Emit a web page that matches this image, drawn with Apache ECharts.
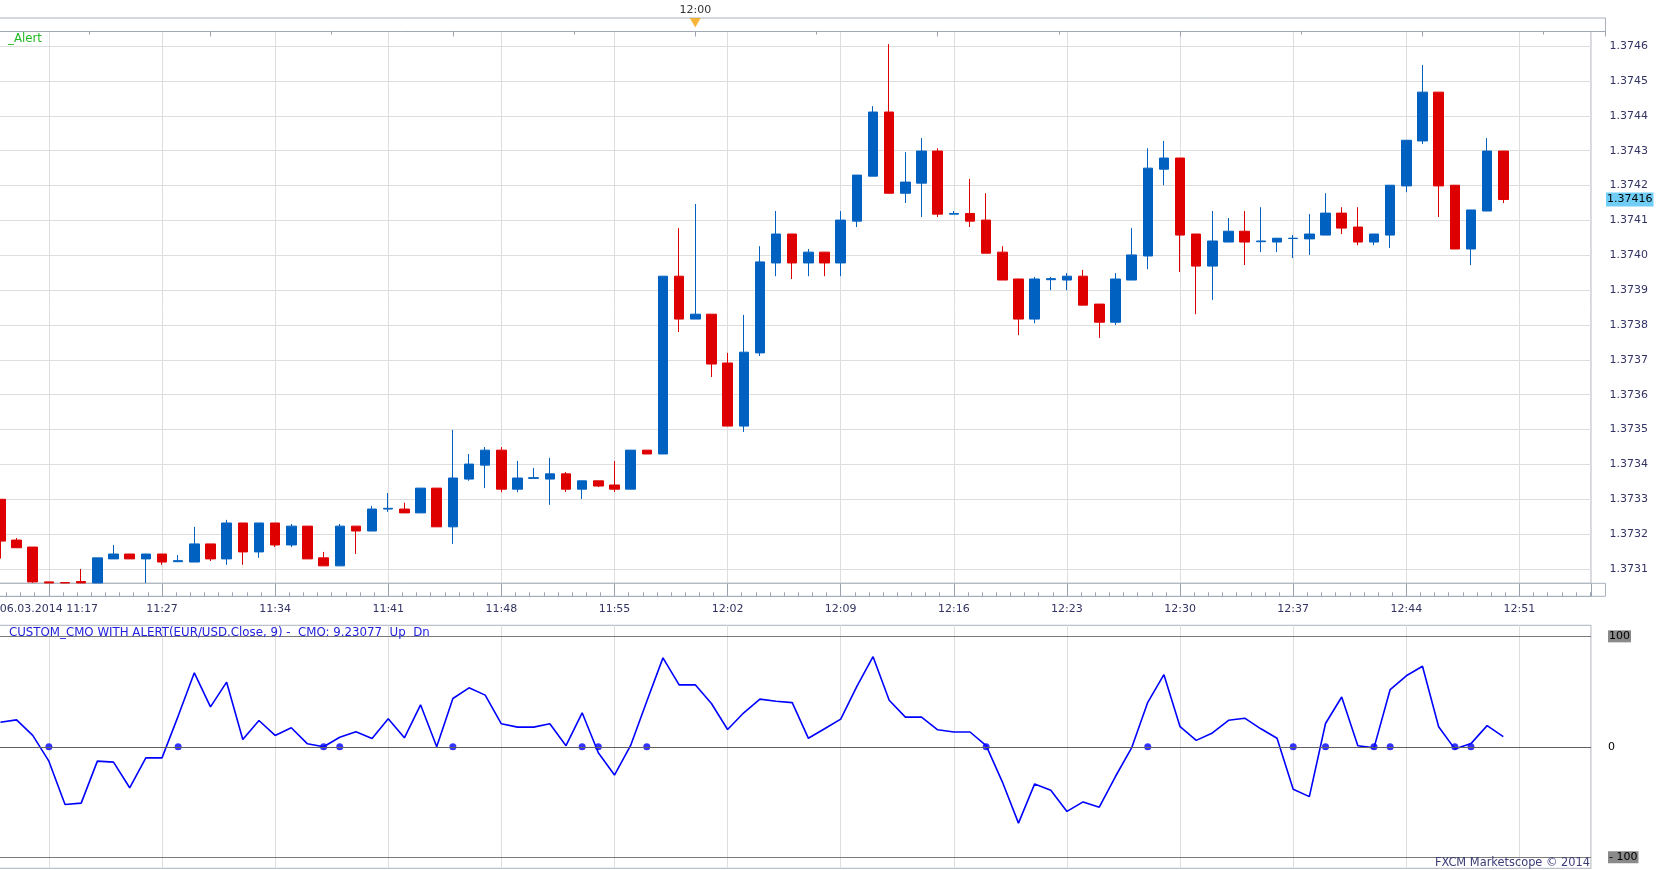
<!DOCTYPE html>
<html>
<head>
    <meta charset="utf-8">
    <title>EUR/USD m1 + CMO</title>
    <style>
        html, body { margin: 0; padding: 0; background: #fff; }
    </style>
</head>
<body>
    <div id="main" style="width: 1663px; height: 870px;"></div>
    <script src="https://cdn.jsdelivr.net/npm/echarts@6/dist/echarts.min.js"></script>
    <script type="text/javascript">
        // time labels on the bottom axis, one every 7 candles
        var timeLabels = ['06.03.2014 11:17', '11:27', '11:34', '11:41', '11:48', '11:55', '12:02',
            '12:09', '12:16', '12:23', '12:30', '12:37', '12:44', '12:51'];

        // EUR/USD 1 minute candles
        var opens = [1.373300, 1.373183, 1.373163, 1.373063, 1.373061, 1.373064, 1.373060, 1.373129, 1.373143, 1.373129,
            1.373143, 1.373121, 1.373120, 1.373172, 1.373129, 1.373232, 1.373149, 1.373232, 1.373169, 1.373223,
            1.373132, 1.373109, 1.373223, 1.373209, 1.373272, 1.373272, 1.373261, 1.373332, 1.373221, 1.373358,
            1.373398, 1.373441, 1.373329, 1.373360, 1.373358, 1.373373, 1.373329, 1.373353, 1.373341, 1.373329,
            1.373441, 1.373430, 1.373940, 1.373817, 1.373831, 1.373691, 1.373510, 1.373720, 1.373978, 1.374061,
            1.373978, 1.374009, 1.373978, 1.374098, 1.374227, 1.374411, 1.374178, 1.374207, 1.374299, 1.374118,
            1.374120, 1.374101, 1.374009, 1.373932, 1.373817, 1.373930, 1.373929, 1.373940, 1.373860, 1.373808,
            1.373929, 1.373998, 1.374247, 1.374279, 1.374061, 1.373969, 1.374038, 1.374069, 1.374039, 1.374038,
            1.374048, 1.374047, 1.374058, 1.374121, 1.374081, 1.374038, 1.374058, 1.374199, 1.374328, 1.374468,
            1.374201, 1.374018, 1.374127, 1.374299];
        var closes = [1.373180, 1.373161, 1.373063, 1.373060, 1.373060, 1.373060, 1.373132, 1.373143, 1.373129, 1.373143,
            1.373120, 1.373124, 1.373172, 1.373129, 1.373232, 1.373149, 1.373232, 1.373169, 1.373223, 1.373129,
            1.373109, 1.373223, 1.373209, 1.373272, 1.373274, 1.373261, 1.373332, 1.373221, 1.373361, 1.373401,
            1.373441, 1.373329, 1.373361, 1.373362, 1.373373, 1.373329, 1.373353, 1.373338, 1.373329, 1.373441,
            1.373430, 1.373940, 1.373817, 1.373831, 1.373688, 1.373510, 1.373722, 1.373981, 1.374061, 1.373978,
            1.374009, 1.373978, 1.374101, 1.374230, 1.374411, 1.374178, 1.374210, 1.374299, 1.374118, 1.374120,
            1.374098, 1.374006, 1.373929, 1.373817, 1.373932, 1.373933, 1.373940, 1.373857, 1.373808, 1.373932,
            1.374001, 1.374250, 1.374279, 1.374058, 1.373969, 1.374041, 1.374069, 1.374038, 1.374041, 1.374049,
            1.374049, 1.374061, 1.374121, 1.374078, 1.374038, 1.374061, 1.374201, 1.374330, 1.374468, 1.374199,
            1.374018, 1.374130, 1.374299, 1.374160];
        var lows = [1.373130, 1.373161, 1.373060, 1.373060, 1.373060, 1.373060, 1.373060, 1.373129, 1.373129, 1.373060,
            1.373112, 1.373120, 1.373120, 1.373123, 1.373112, 1.373112, 1.373132, 1.373163, 1.373163, 1.373129,
            1.373109, 1.373109, 1.373143, 1.373209, 1.373264, 1.373261, 1.373261, 1.373221, 1.373172, 1.373353,
            1.373332, 1.373320, 1.373320, 1.373360, 1.373284, 1.373321, 1.373301, 1.373335, 1.373321, 1.373329,
            1.373430, 1.373430, 1.373780, 1.373817, 1.373651, 1.373510, 1.373493, 1.373711, 1.373940, 1.373932,
            1.373940, 1.373940, 1.373940, 1.374081, 1.374227, 1.374178, 1.374150, 1.374110, 1.374110, 1.374118,
            1.374081, 1.374006, 1.373929, 1.373771, 1.373805, 1.373900, 1.373900, 1.373857, 1.373763, 1.373800,
            1.373929, 1.373960, 1.374201, 1.373952, 1.373831, 1.373872, 1.374038, 1.373972, 1.374009, 1.374009,
            1.373992, 1.374001, 1.374058, 1.374061, 1.374029, 1.374029, 1.374021, 1.374181, 1.374319, 1.374110,
            1.374018, 1.373972, 1.374127, 1.374150];
        var highs = [1.373300, 1.373189, 1.373163, 1.373063, 1.373061, 1.373100, 1.373132, 1.373169, 1.373143, 1.373143,
            1.373143, 1.373140, 1.373221, 1.373172, 1.373241, 1.373232, 1.373232, 1.373232, 1.373229, 1.373223,
            1.373149, 1.373229, 1.373223, 1.373281, 1.373318, 1.373290, 1.373332, 1.373332, 1.373499, 1.373430,
            1.373450, 1.373450, 1.373410, 1.373390, 1.373419, 1.373378, 1.373353, 1.373353, 1.373410, 1.373441,
            1.373441, 1.373940, 1.374078, 1.374147, 1.373831, 1.373720, 1.373829, 1.374026, 1.374127, 1.374061,
            1.374018, 1.374009, 1.374127, 1.374230, 1.374428, 1.374606, 1.374296, 1.374336, 1.374307, 1.374127,
            1.374219, 1.374178, 1.374026, 1.373932, 1.373938, 1.373938, 1.373949, 1.373958, 1.373860, 1.373949,
            1.374078, 1.374307, 1.374328, 1.374279, 1.374061, 1.374127, 1.374107, 1.374127, 1.374138, 1.374049,
            1.374058, 1.374118, 1.374178, 1.374138, 1.374138, 1.374061, 1.374201, 1.374330, 1.374546, 1.374468,
            1.374201, 1.374130, 1.374336, 1.374299];

        // CUSTOM_CMO(9) on close, one value per candle
        var cmo = [22.3, 24.4, 10.3, -13.0, -52.2, -51.0, -13.0, -13.9, -37.1, -10.0,
            -10.0, 27.8, 67.0, 36.2, 58.5, 6.6, 23.8, 10.3, 17.2, 2.7,
            0.0, 8.7, 13.6, 7.5, 25.3, 8.1, 38.0, 0.0, 43.7, 53.4,
            46.8, 20.8, 17.8, 17.8, 20.8, 1.0, 30.8, -5.4, -25.6, 1.2,
            41.3, 80.5, 56.1, 56.1, 39.2, 15.7, 30.8, 43.2, 41.3, 40.0,
            7.7, 16.3, 25.0, 54.7, 81.6, 42.2, 26.9, 26.9, 15.4, 13.4,
            13.4, 1.0, -31.7, -69.1, -33.6, -39.3, -58.5, -49.9, -54.7, -26.9,
            -1.0, 40.3, 65.3, 18.2, 5.8, 12.5, 24.0, 25.9, 16.3, 7.7,
            -38.4, -45.1, 21.1, 45.1, 1.0, -1.0, 51.8, 64.3, 72.9, 18.2,
            -1.9, 2.9, 19.2, 9.2];
        // candles where the alert fired (Up / Dn dots on the zero line)
        var signalIdx = [3, 11, 20, 21, 28, 36, 37, 40, 61, 71, 80, 82, 85, 86, 90, 91];

        var lastPrice = 1.37416;
        var cmoLast = '9.23077';
        var alertIdx = 43;
        var alertTime = '12:00';

        // layout: one candle every PX pixels, candle 0 sits on the left edge
        var PX = 16.16, X0 = 0.4, PLOT_R = 1591, AXIS_R = 1605.5;
        var SHIFT = 4;       // x value = candle index + SHIFT, so ticks start at a multiple of 7
        var TOP_SHIFT = 2;   // same for the top time strip (ticks every 15)
        var mainLeft = X0 - SHIFT * PX;
        var topLeft = X0 - TOP_SHIFT * PX;
        var xMax = (PLOT_R - mainLeft) / PX;
        var topMax = (AXIS_R - topLeft) / PX;

        var FONT = 'DejaVu Sans';
        var AX = '#333366';
        var BLUE = '#0061c1', RED = '#de0000';

        var candleData = opens.map(function (o, i) {
            return [i + SHIFT, o, closes[i], lows[i], highs[i]];
        });
        var cmoData = cmo.map(function (v, i) { return [i + SHIFT, v]; });
        var signalData = signalIdx.map(function (i) { return [i + SHIFT, 0]; });

        var chart = echarts.init(document.getElementById('main'));

        function timeAxis(gridIndex, showLabels) {
            return {
                type: 'value', gridIndex: gridIndex, min: 0, max: xMax, interval: 7,
                position: 'bottom', offset: showLabels ? 13 : 0,
                axisLine: { show: showLabels, lineStyle: { color: '#a0a8b4' } },
                axisTick: { show: showLabels, inside: true, length: 13, lineStyle: { color: '#9aa2b0' } },
                minorTick: { show: showLabels, splitNumber: 8, length: 4, lineStyle: { color: '#9aa2b0' } },
                splitLine: { show: true, lineStyle: { color: '#dedede', width: 1 } },
                axisLabel: {
                    show: showLabels, margin: 7, color: AX, fontFamily: FONT, fontSize: 11,
                    showMinLabel: false, showMaxLabel: false,
                    formatter: function (v) {
                        var k = Math.round(v / 7) - 1;
                        return (Math.abs(v / 7 - Math.round(v / 7)) < 1e-6 && k >= 0 && k < timeLabels.length) ? timeLabels[k] : '';
                    }
                }
            };
        }

        var option = {
            animation: false,
            backgroundColor: '#ffffff',
            title: [
                { text: '_Alert', left: 8, top: 33, padding: 0,
                  textStyle: { color: '#22bb22', fontFamily: FONT, fontSize: 11.8, fontWeight: 'normal' } },
                { text: 'CUSTOM_CMO WITH ALERT(EUR/USD.Close, 9) -  CMO: ' + cmoLast + '  Up  Dn', left: 9, top: 626.5, padding: 0,
                  textStyle: { color: '#2222dd', fontFamily: FONT, fontSize: 11.8, fontWeight: 'normal' } },
                { text: 'FXCM Marketscope \u00a9 2014', right: 1663 - PLOT_R + 1, top: 857.5, padding: 0,
                  textStyle: { color: '#3c3c78', fontFamily: FONT, fontSize: 11.4, fontWeight: 'normal' } }
            ],
            grid: [
                { left: mainLeft, right: 1663 - PLOT_R, top: 31.5, height: 551.8, outerBoundsMode: 'none',
                  show: true, borderColor: '#aab2be', borderWidth: 1 },
                { left: mainLeft, right: 1663 - PLOT_R, top: 625.3, height: 243, outerBoundsMode: 'none',
                  show: true, borderColor: '#aab2be', borderWidth: 1 },
                { left: topLeft, right: 1663 - AXIS_R, top: 18, height: 13.5, outerBoundsMode: 'none',
                  show: true, borderColor: '#a8b0bc', borderWidth: 1 },
                // frame of the time strip under the price panel
                { left: topLeft, right: 1663 - AXIS_R, top: 583.3, height: 13, outerBoundsMode: 'none',
                  show: true, borderColor: '#a8b0bc', borderWidth: 1, z: 1 }
            ],
            xAxis: [
                timeAxis(0, true),
                timeAxis(1, false),
                {
                    type: 'value', gridIndex: 2, min: 0, max: topMax, interval: 15, position: 'top',
                    axisLine: { show: true, lineStyle: { color: '#a0a8b4' } },
                    axisTick: { show: true, inside: true, length: 5, lineStyle: { color: '#9aa2b0' } },
                    minorTick: { show: true, splitNumber: 2, length: 3, lineStyle: { color: '#9aa2b0' } },
                    splitLine: { show: false },
                    axisLabel: {
                        margin: 2.5, color: '#333333', fontFamily: FONT, fontSize: 11,
                        showMinLabel: false, showMaxLabel: false,
                        formatter: function (v) { return Math.abs(v - (alertIdx + TOP_SHIFT)) < 1e-6 ? alertTime : ''; }
                    }
                },
                { type: 'value', gridIndex: 3, min: 0, max: 1, show: false }
            ],
            yAxis: [
                {
                    type: 'value', gridIndex: 0, position: 'right', offset: AXIS_R - PLOT_R,
                    min: 1.373059, max: 1.374642, splitNumber: 16,
                    axisLine: { show: true, lineStyle: { color: '#a0a8b4' } },
                    axisTick: { show: true, inside: true, length: 5, lineStyle: { color: '#9aa2b0' } },
                    minorTick: { show: true, splitNumber: 5, length: 3, lineStyle: { color: '#9aa2b0' } },
                    splitLine: { show: true, lineStyle: { color: '#dedede', width: 1 } },
                    axisLabel: {
                        margin: 4, color: AX, fontFamily: FONT, fontSize: 11,
                        showMinLabel: false, showMaxLabel: false,
                        formatter: function (v) { return v.toFixed(4); }
                    }
                },
                {
                    type: 'value', gridIndex: 1, position: 'right', offset: AXIS_R - PLOT_R,
                    min: -110, max: 110, interval: 10,
                    axisLine: { show: true, lineStyle: { color: '#a0a8b4' } },
                    axisTick: { show: true, inside: true, length: 4, lineStyle: { color: '#9aa2b0' } },
                    splitLine: { show: false },
                    axisLabel: { show: false }
                },
                { type: 'value', gridIndex: 2, min: 0, max: 1, show: false },
                { type: 'value', gridIndex: 3, min: 0, max: 1, show: false }
            ],
            series: [
                {
                    type: 'candlestick', xAxisIndex: 0, yAxisIndex: 0,
                    data: candleData, barWidth: 10,
                    itemStyle: { color: BLUE, color0: RED, borderColor: BLUE, borderColor0: RED, borderWidth: 1 },
                    markLine: {
                        // current price tag on the right axis
                        symbol: 'none', silent: true, animation: false, precision: 5,
                        lineStyle: { color: 'rgba(255,255,255,0)', width: 1, type: 'solid' },
                        label: {
                            show: true, position: 'end', distance: AXIS_R - PLOT_R + 0.5,
                            formatter: lastPrice.toFixed(5),
                            backgroundColor: '#70cdf5', color: '#000000', padding: [2, 1, 1, 1],
                            fontFamily: FONT, fontSize: 11
                        },
                        data: [{ yAxis: lastPrice }]
                    }
                },
                {
                    name: 'CMO', type: 'line', xAxisIndex: 1, yAxisIndex: 1,
                    data: cmoData, showSymbol: false, z: 3,
                    lineStyle: { color: '#0000ff', width: 1.6 },
                    markLine: {
                        symbol: 'none', silent: true, animation: false,
                        label: { position: 'end', distance: 17, fontFamily: FONT, fontSize: 11, color: '#000000' },
                        data: [
                            { yAxis: 100, lineStyle: { color: '#7a7a7a', width: 1, type: 'solid' },
                              label: { formatter: '100', backgroundColor: '#8a8a8a', padding: [1, 1, 0, 1] } },
                            { yAxis: 0, lineStyle: { color: '#606060', width: 1, type: 'solid' },
                              label: { formatter: '0' } },
                            { yAxis: -100, lineStyle: { color: '#7a7a7a', width: 1, type: 'solid' },
                              label: { formatter: '- 100', backgroundColor: '#8a8a8a', padding: [1, 1, 0, 1] } }
                        ]
                    }
                },
                {
                    name: 'Up Dn', type: 'scatter', xAxisIndex: 1, yAxisIndex: 1,
                    data: signalData, symbol: 'circle', symbolSize: 7, z: 4,
                    itemStyle: { color: '#0000ff' }
                },
                {
                    name: 'alert', type: 'scatter', xAxisIndex: 2, yAxisIndex: 2,
                    data: [[alertIdx + TOP_SHIFT, 1]], symbol: 'triangle', symbolRotate: 180,
                    symbolSize: [11, 9.5], symbolOffset: [0, 4.7], clip: false,
                    itemStyle: { color: '#f5a20a' }
                }
            ]
        };

        chart.setOption(option);
    </script>
</body>
</html>
